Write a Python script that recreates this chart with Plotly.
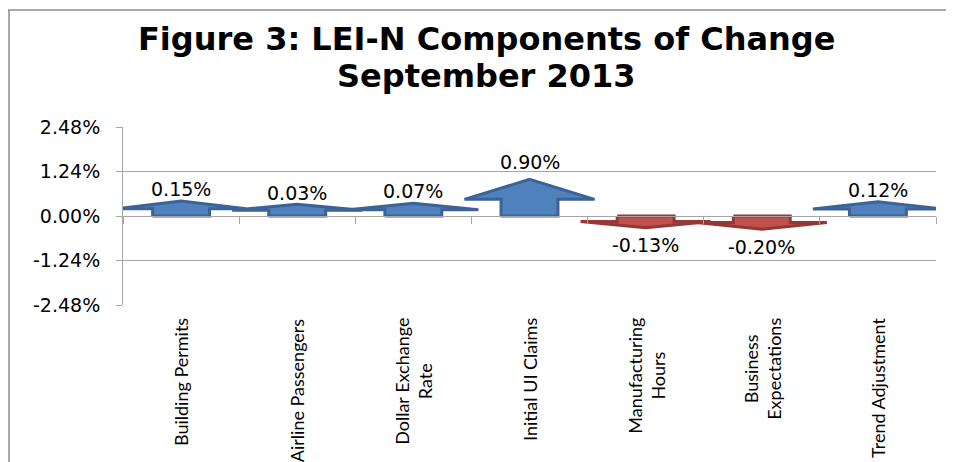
import plotly.graph_objects as go

# ---- data ----
categories = ["Building Permits", "Airline Passengers", "Dollar Exchange<br>Rate",
              "Initial UI Claims", "Manufacturing<br>Hours", "Business<br>Expectations",
              "Trend Adjustment"]
values = [0.15, 0.03, 0.07, 0.90, -0.13, -0.20, 0.12]
ytick_vals = [-2.48, -1.24, 0.0, 1.24, 2.48]
ytick_text = ["-2.48%", "-1.24%", "0.00%", "1.24%", "2.48%"]

title_lines = ["Figure 3: LEI-N Components of Change", "September 2013"]

# ---- style ----
# page has an 8px body margin, so the figure is 8px smaller and shifted
OFF = 8
W, H = 954 - OFF, 462 - OFF
ML, MR, MT, MB = 123 - OFF, 18, 127 - OFF, 157
PW, PH = W - ML - MR, H - MT - MB
GRID = "#A6A6A6"
BLUE_FILL, BLUE_LINE = "#4F81BD", "#3B6398"
RED_FILL, RED_LINE = "#C0504D", "#953735"
TICK_FONT = dict(family="DejaVu Sans", size=19, color="#000000")


def px_x(px):  # page pixel -> paper x
    return (px - OFF - ML) / PW


def px_y(py):  # page pixel -> paper y
    return (H - MB - (py - OFF)) / PH


fig = go.Figure()


def arrow(i, v):
    s = 1 if v >= 0 else -1
    a = abs(v)
    if s > 0:
        b, t = 0.15 + 0.35 * a, 0.30 + 0.80 * a
    else:
        b, t = 0.10 + 0.40 * a, 0.25 + 0.60 * a
    w1, w2 = 0.245, 0.56
    xs = [i - w1, i - w1, i - w2, i, i + w2, i + w1, i + w1, i - w1]
    ys = [0, s * b, s * b, s * t, s * b, s * b, 0, 0]
    return xs, ys


for i, v in enumerate(values):
    xs, ys = arrow(i, v)
    pos = v >= 0
    fig.add_trace(go.Scatter(
        x=xs, y=ys, mode="lines", fill="toself",
        fillcolor=BLUE_FILL if pos else RED_FILL,
        line=dict(color=BLUE_LINE if pos else RED_LINE, width=3),
        hoverinfo="skip", showlegend=False))

annotations = []
for i, v in enumerate(values):
    annotations.append(dict(
        x=i, y=v, xref="x", yref="y", text=f"{v:.2f}%", showarrow=False,
        font=TICK_FONT, yshift=22 if v >= 0 else -24))

for i, c in enumerate(categories):
    annotations.append(dict(
        x=i, y=0, xref="x", yref="paper", text=c, showarrow=False,
        textangle=-90, xanchor="center", yanchor="top", align="center",
        yshift=-11, font=dict(family="Lato", size=18, color="#000000")))

for line, cy in zip(title_lines, [39, 76]):
    annotations.append(dict(
        x=px_x(486), y=px_y(cy), xref="paper", yref="paper", text=line,
        showarrow=False, xanchor="center", yanchor="middle",
        font=dict(family="DejaVu Sans", size=32, color="#000000", weight="bold")))

# figure border (top and left edges)
shapes = [
    dict(type="line", xref="paper", yref="paper",
         x0=px_x(OFF), x1=px_x(954), y0=px_y(10), y1=px_y(10),
         line=dict(color="#8C8C8C", width=1.5)),
    dict(type="line", xref="paper", yref="paper",
         x0=px_x(OFF + 1), x1=px_x(OFF + 1), y0=px_y(10), y1=px_y(462),
         line=dict(color="#8C8C8C", width=1.5)),
]

n = len(categories)
fig.update_layout(
    width=W, height=H,
    margin=dict(l=ML, r=MR, t=MT, b=MB, pad=0),
    paper_bgcolor="white", plot_bgcolor="white",
    xaxis=dict(range=[-0.5, n - 0.5], anchor="free", position=0.5,
               tickvals=[k - 0.5 for k in range(n + 1)], showticklabels=False,
               ticks="outside", ticklen=7, tickcolor=GRID, tickwidth=1,
               showline=True, linecolor=GRID, linewidth=1,
               showgrid=False, zeroline=False, fixedrange=True),
    yaxis=dict(range=[-2.48, 2.48], tickvals=ytick_vals, ticktext=ytick_text,
               tickfont=TICK_FONT, ticks="outside", ticklen=6, tickcolor=GRID,
               showline=True, linecolor=GRID, linewidth=1,
               showgrid=True, gridcolor=GRID, gridwidth=1, zeroline=False,
               ticklabelstandoff=12, fixedrange=True),
    annotations=annotations, shapes=shapes,
)

fig.write_html("out.html")
